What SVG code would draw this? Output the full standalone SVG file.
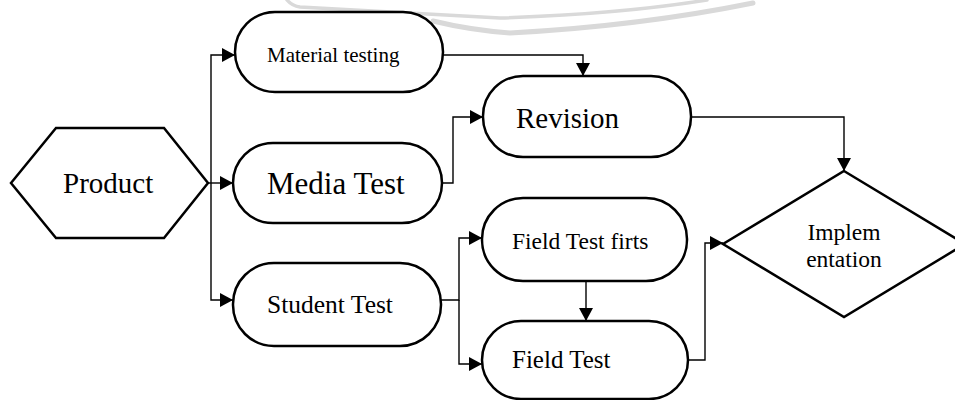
<svg xmlns="http://www.w3.org/2000/svg" width="955" height="400" viewBox="0 0 955 400">
<defs>
<style>
.node{fill:#fff;stroke:#000;stroke-width:2.5}
.conn{fill:none;stroke:#000;stroke-width:1.4}
.t{font-family:"Liberation Serif","Times New Roman",serif;fill:#000}
.wm{fill:none;stroke:#d9d9d9;stroke-linecap:round}
</style>
<marker id="arr" markerUnits="userSpaceOnUse" markerWidth="14" markerHeight="14" refX="13" refY="7" orient="auto">
<path d="M0,0 L13,7 L0,14 Z" fill="#000"/>
</marker>
</defs>
<rect width="955" height="400" fill="#fff"/>
<g id="watermark">
<path class="wm" stroke-width="3.5" d="M287,0 Q292,6 300,7 Q420,14 500,18 Q620,14 707,0"/>
<path class="wm" stroke-width="5" d="M433,21 Q470,30 510,33 Q640,26 753,3"/>
</g>
<g id="connectors">
<path class="conn" d="M208,183 L233,183" marker-end="url(#arr)"/>
<path class="conn" d="M211,183 L211,55 L235,55" marker-end="url(#arr)"/>
<path class="conn" d="M211,183 L211,300 L233,300" marker-end="url(#arr)"/>
<path class="conn" d="M443,55 L583,55 L583,76" marker-end="url(#arr)"/>
<path class="conn" d="M442,183 L453,183 L453,117 L483,117" marker-end="url(#arr)"/>
<path class="conn" d="M691,117 L844,117 L844,171" marker-end="url(#arr)"/>
<path class="conn" d="M441,300 L459,300 L459,238 L482,238" marker-end="url(#arr)"/>
<path class="conn" d="M459,300 L459,364 L482,364" marker-end="url(#arr)"/>
<path class="conn" d="M586,281 L586,321" marker-end="url(#arr)"/>
<path class="conn" d="M688,360 L705,360 L705,243 L723,243" marker-end="url(#arr)"/>
</g>
<g id="product">
<polygon class="node" points="11,183 56,128 164,128 208,183 164,238 56,238"/>
<text class="t" x="63" y="193" font-size="29">Product</text>
</g>
<g id="material-testing">
<rect class="node" x="235" y="12" width="208" height="80" rx="40" ry="40"/>
<text class="t" x="267" y="62" font-size="21">Material testing</text>
</g>
<g id="media-test">
<rect class="node" x="233" y="143" width="209" height="80" rx="40" ry="40"/>
<text class="t" x="267" y="194" font-size="31">Media Test</text>
</g>
<g id="student-test">
<rect class="node" x="233" y="263" width="208" height="83" rx="41" ry="41"/>
<text class="t" x="267" y="313" font-size="25.5">Student Test</text>
</g>
<g id="revision">
<rect class="node" x="483" y="76" width="208" height="81" rx="40" ry="40"/>
<text class="t" x="516" y="128" font-size="29">Revision</text>
</g>
<g id="field-test-first">
<rect class="node" x="482" y="198" width="205" height="83" rx="41" ry="41"/>
<text class="t" x="512" y="249" font-size="23.5">Field Test firts</text>
</g>
<g id="field-test">
<rect class="node" x="482" y="321" width="206" height="78" rx="39" ry="39"/>
<text class="t" x="512" y="368" font-size="25">Field Test</text>
</g>
<g id="implementation">
<polygon class="node" points="844,171 965,244 844,317 723,244"/>
<text class="t" x="844" y="240" font-size="23.5" text-anchor="middle">Implem</text>
<text class="t" x="844" y="267" font-size="23.5" text-anchor="middle">entation</text>
</g>
</svg>
